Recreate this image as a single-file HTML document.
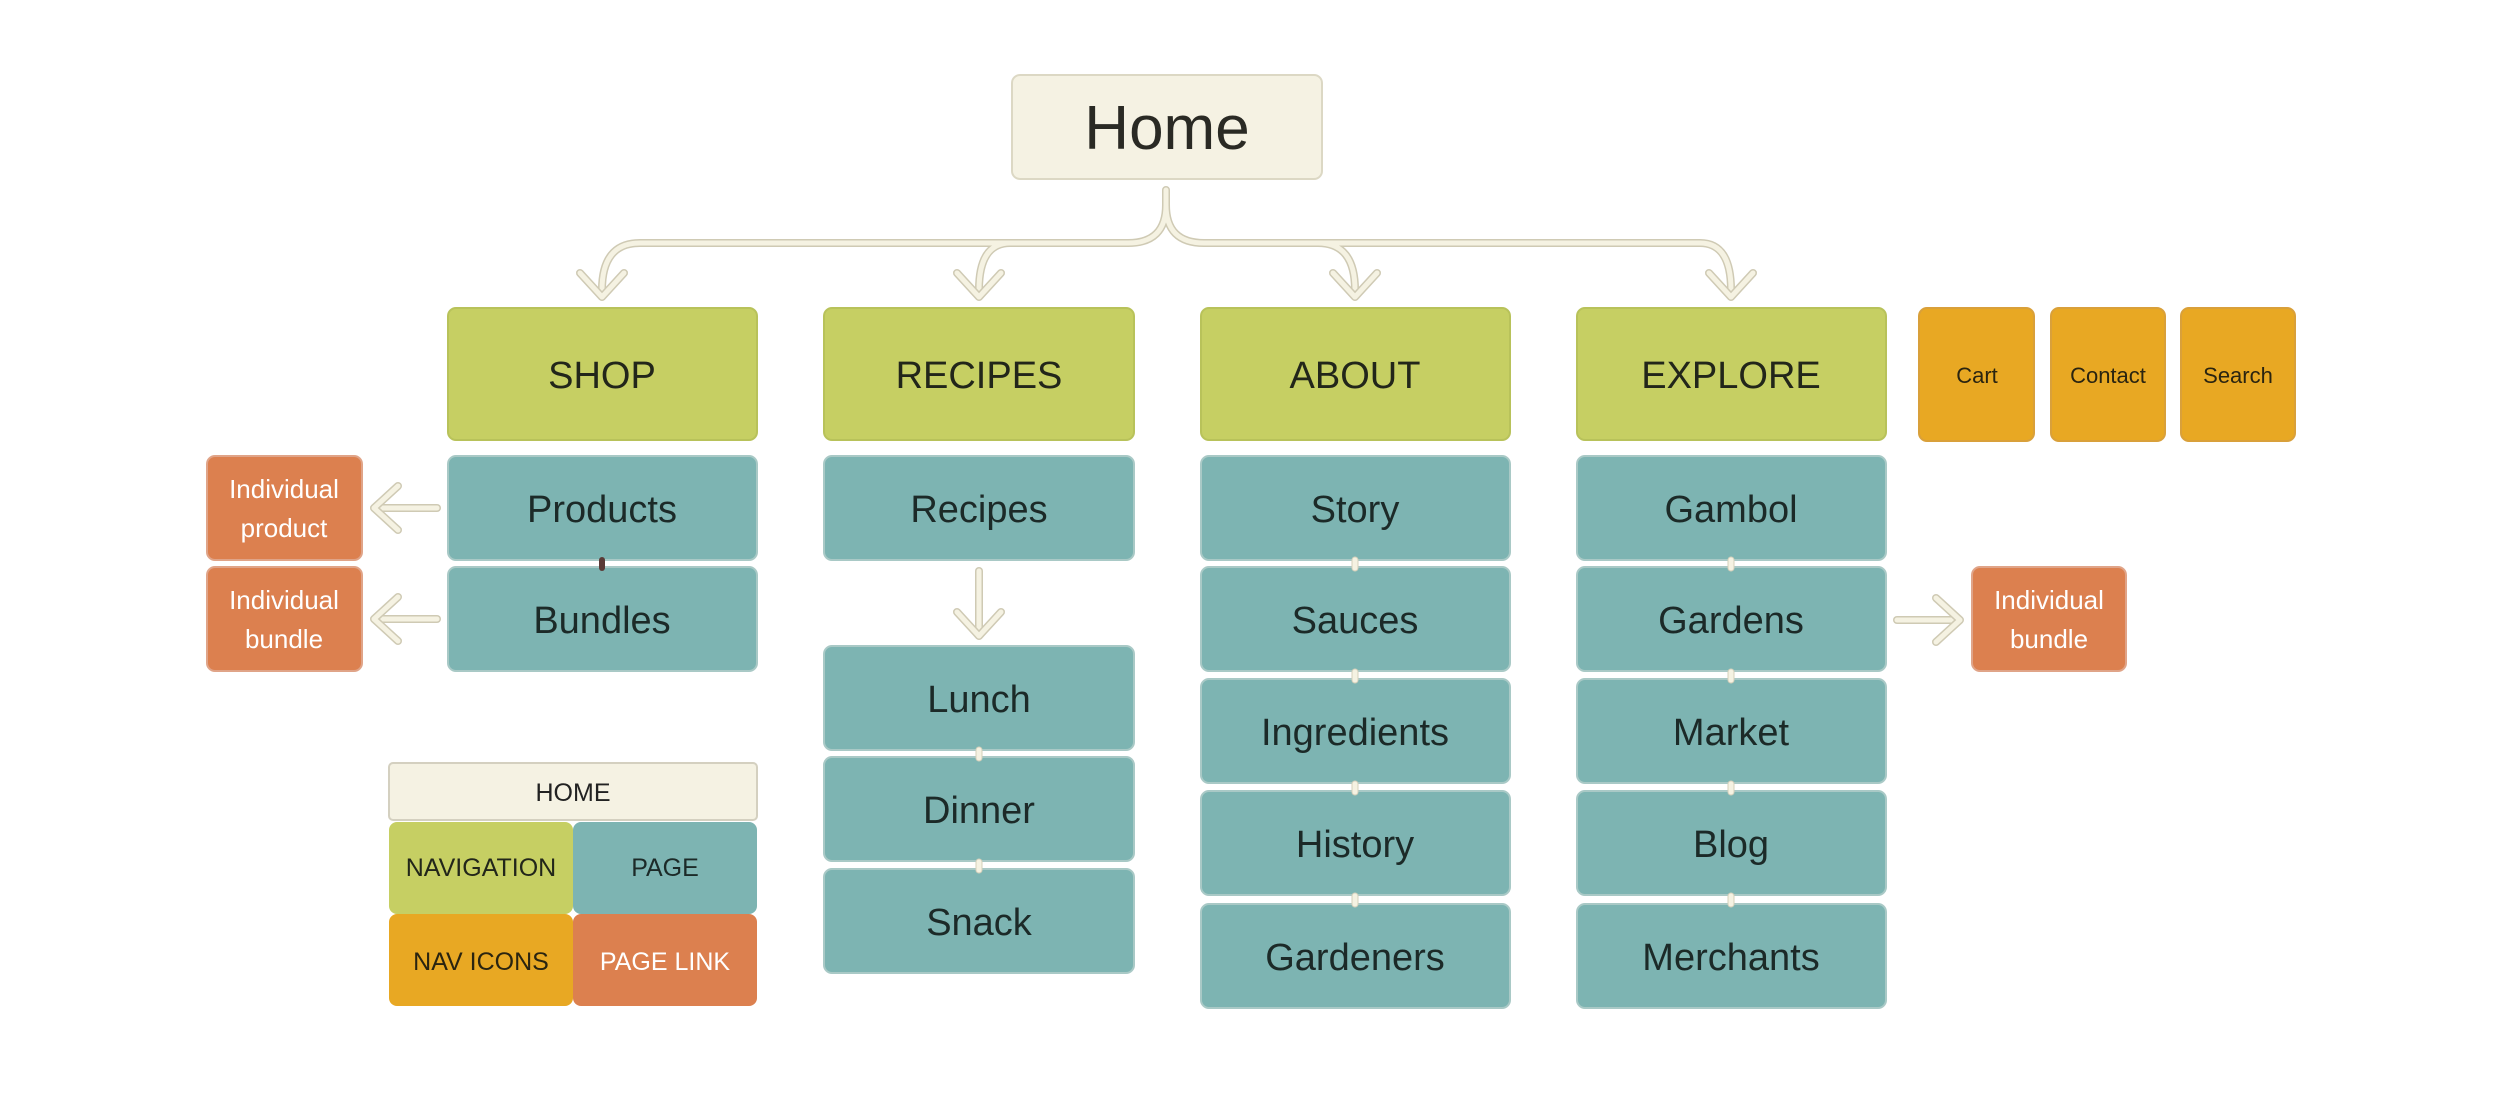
<!DOCTYPE html>
<html><head><meta charset="utf-8"><style>
html,body{margin:0;padding:0;background:#fff;}
svg{display:block;}
text{font-family:"Liberation Sans",sans-serif;}
</style></head><body>
<svg width="2500" height="1106" viewBox="0 0 2500 1106" xmlns="http://www.w3.org/2000/svg">
<defs>
<g id="dn"><path d="M-22,-24 L0,0 L22,-24" fill="none" stroke="#cfcab4" stroke-width="8" stroke-linecap="round" stroke-linejoin="round"/><path d="M-22,-24 L0,0 L22,-24" fill="none" stroke="#f5f2e2" stroke-width="5" stroke-linecap="round" stroke-linejoin="round"/></g>
</defs>
<!-- connectors -->
<g fill="none" stroke-linecap="round">
<g stroke="#cfcab4" stroke-width="8">
<path d="M1166,190 L1166,205 Q1166,243 1128,243 L640,243 Q602,243 602,290"/>
<path d="M1010,243 Q979,243 979,290"/>
<path d="M1166,205 Q1166,243 1204,243 L1700,243 Q1731,243 1731,290"/>
<path d="M1318,243 Q1355,243 1355,290"/>
<path d="M437,508 L375,508"/><path d="M437,619 L375,619"/>
<path d="M979,571 L979,635"/>
<path d="M1897,620 L1959,620"/>
</g>
<g stroke="#f5f2e2" stroke-width="5">
<path d="M1166,190 L1166,205 Q1166,243 1128,243 L640,243 Q602,243 602,290"/>
<path d="M1010,243 Q979,243 979,290"/>
<path d="M1166,205 Q1166,243 1204,243 L1700,243 Q1731,243 1731,290"/>
<path d="M1318,243 Q1355,243 1355,290"/>
<path d="M437,508 L375,508"/><path d="M437,619 L375,619"/>
<path d="M979,571 L979,635"/>
<path d="M1897,620 L1959,620"/>
</g>
</g>
<use href="#dn" transform="translate(602,297)"/>
<use href="#dn" transform="translate(979,297)"/>
<use href="#dn" transform="translate(1355,297)"/>
<use href="#dn" transform="translate(1731,297)"/>
<use href="#dn" transform="translate(979,636)"/>
<use href="#dn" transform="translate(374,508) rotate(90)"/>
<use href="#dn" transform="translate(374,619) rotate(90)"/>
<use href="#dn" transform="translate(1960,620) rotate(-90)"/>

<!-- Home -->
<rect x="1012" y="75" width="310" height="104" rx="8" fill="#f5f2e3" stroke="#dcd8c4" stroke-width="2"/>
<text x="1167" y="149" font-size="62" text-anchor="middle" fill="#2a2a24">Home</text>

<!-- nav boxes -->
<g fill="#c6cf63" stroke="#b8c25a" stroke-width="2">
<rect x="448" y="308" width="309" height="132" rx="8"/>
<rect x="824" y="308" width="310" height="132" rx="8"/>
<rect x="1201" y="308" width="309" height="132" rx="8"/>
<rect x="1577" y="308" width="309" height="132" rx="8"/>
</g>
<g font-size="38" text-anchor="middle" fill="#22261a">
<text x="602" y="388">SHOP</text><text x="979" y="388">RECIPES</text>
<text x="1355" y="388">ABOUT</text><text x="1731" y="388">EXPLORE</text>
</g>

<!-- nav icons -->
<g fill="#e8a823" stroke="#d9a03a" stroke-width="2">
<rect x="1919" y="308" width="115" height="133" rx="8"/>
<rect x="2051" y="308" width="114" height="133" rx="8"/>
<rect x="2181" y="308" width="114" height="133" rx="8"/>
</g>
<g font-size="22" text-anchor="middle" fill="#2a2410">
<text x="1977" y="383">Cart</text><text x="2108" y="383">Contact</text><text x="2238" y="383">Search</text>
</g>

<!-- pages -->
<g fill="#7db4b2" stroke="#a9c9c6" stroke-width="2">
<rect x="448" y="456" width="309" height="104" rx="8"/>
<rect x="448" y="567" width="309" height="104" rx="8"/>
<rect x="824" y="456" width="310" height="104" rx="8"/>
<rect x="824" y="646" width="310" height="104" rx="8"/>
<rect x="824" y="757" width="310" height="104" rx="8"/>
<rect x="824" y="869" width="310" height="104" rx="8"/>
<rect x="1201" y="456" width="309" height="104" rx="8"/>
<rect x="1201" y="567" width="309" height="104" rx="8"/>
<rect x="1201" y="679" width="309" height="104" rx="8"/>
<rect x="1201" y="791" width="309" height="104" rx="8"/>
<rect x="1201" y="904" width="309" height="104" rx="8"/>
<rect x="1577" y="456" width="309" height="104" rx="8"/>
<rect x="1577" y="567" width="309" height="104" rx="8"/>
<rect x="1577" y="679" width="309" height="104" rx="8"/>
<rect x="1577" y="791" width="309" height="104" rx="8"/>
<rect x="1577" y="904" width="309" height="104" rx="8"/>
</g>
<!-- small connector marks -->
<rect x="599" y="557" width="6" height="14" rx="3" fill="#5a3a36"/>
<g fill="#f5f2e2" stroke="#d5d0bb" stroke-width="1">
<rect x="1352" y="557" width="6" height="14" rx="3"/><rect x="1352" y="669" width="6" height="14" rx="3"/>
<rect x="1352" y="781" width="6" height="14" rx="3"/><rect x="1352" y="893" width="6" height="14" rx="3"/>
<rect x="1728" y="557" width="6" height="14" rx="3"/><rect x="1728" y="669" width="6" height="14" rx="3"/>
<rect x="1728" y="781" width="6" height="14" rx="3"/><rect x="1728" y="893" width="6" height="14" rx="3"/>
<rect x="976" y="747" width="6" height="14" rx="3"/><rect x="976" y="859" width="6" height="14" rx="3"/>
</g>
<g font-size="38" text-anchor="middle" fill="#1c2a28">
<text x="602" y="522">Products</text><text x="602" y="633">Bundles</text>
<text x="979" y="522">Recipes</text><text x="979" y="712">Lunch</text>
<text x="979" y="823">Dinner</text><text x="979" y="935">Snack</text>
<text x="1355" y="522">Story</text><text x="1355" y="633">Sauces</text>
<text x="1355" y="745">Ingredients</text><text x="1355" y="857">History</text>
<text x="1355" y="970">Gardeners</text>
<text x="1731" y="522">Gambol</text><text x="1731" y="633">Gardens</text>
<text x="1731" y="745">Market</text><text x="1731" y="857">Blog</text>
<text x="1731" y="970">Merchants</text>
</g>

<!-- page links -->
<g fill="#dc804f" stroke="#e0a488" stroke-width="2">
<rect x="207" y="456" width="155" height="104" rx="8"/>
<rect x="207" y="567" width="155" height="104" rx="8"/>
<rect x="1972" y="567" width="154" height="104" rx="8"/>
</g>
<g font-size="26" text-anchor="middle" fill="#fff">
<text x="284" y="498">Individual</text><text x="284" y="537">product</text>
<text x="284" y="609">Individual</text><text x="284" y="648">bundle</text>
<text x="2049" y="609">Individual</text><text x="2049" y="648">bundle</text>
</g>

<!-- legend -->
<rect x="389" y="763" width="368" height="57" rx="4" fill="#f5f2e3" stroke="#d4d0c0" stroke-width="2"/>
<rect x="389" y="822" width="184" height="92" rx="8" fill="#c6cf63"/>
<rect x="573" y="822" width="184" height="92" rx="8" fill="#7db4b2"/>
<rect x="389" y="914" width="184" height="92" rx="8" fill="#e8a823"/>
<rect x="573" y="914" width="184" height="92" rx="8" fill="#dc804f"/>
<g font-size="25" text-anchor="middle">
<text x="573" y="801" fill="#222">HOME</text>
<text x="481" y="876" fill="#22261a">NAVIGATION</text>
<text x="665" y="876" fill="#1c2a28">PAGE</text>
<text x="481" y="970" fill="#2a2410">NAV ICONS</text>
<text x="665" y="970" fill="#fff">PAGE LINK</text>
</g>
</svg>
</body></html>
